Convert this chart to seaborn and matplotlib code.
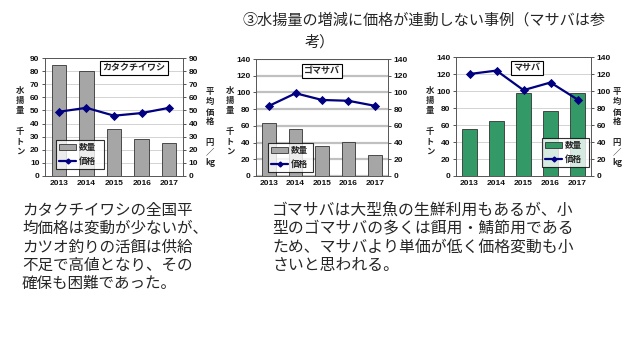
import matplotlib
matplotlib.use("Agg")
import matplotlib.pyplot as plt
import seaborn as sns
import pandas as pd
from matplotlib.patches import Patch
from matplotlib.lines import Line2D
from matplotlib.font_manager import FontProperties

sns.set_theme(style="white")
plt.rcParams['font.family'] = ['Noto Sans CJK JP', 'DejaVu Sans']

years = ['2013', '2014', '2015', '2016', '2017']

# catch (thousand t) and mean price (yen/kg)
katakuchi_catch = [85, 80, 36, 28, 25]
katakuchi_price = [49, 52, 46, 48, 52]
goma_catch = [63, 56, 36, 41, 25]
goma_price = [84, 99, 91, 90, 84]
masaba_catch = [55, 65, 98, 77, 98]
masaba_price = [120, 124, 101, 110, 90]

navy = '#000080'
gray_bar = '#a6a6a6'
green_bar = '#339966'

fig = plt.figure(figsize=(6.4, 3.6), dpi=100)


def px_axes(left, top, right, bottom):
    return fig.add_axes([left / 640, 1 - bottom / 360, (right - left) / 640, (bottom - top) / 360])


charts = [
    # name, catch, price, bar colour, ymax, step, axes px, name box px, legend px, labels x
    ('カタクチイワシ', katakuchi_catch, katakuchi_price, gray_bar, 90, 10,
     (45, 58, 183, 176), (134, 68), (56, 141, 104, 168), (20, 210)),
    ('ゴマサバ', goma_catch, goma_price, gray_bar, 140, 20,
     (256, 59, 388, 176), (322, 71), (268, 143, 313, 172), (230, None)),
    ('マサバ', masaba_catch, masaba_price, green_bar, 140, 20,
     (456, 57, 591, 176), (527, 68), (542, 138, 589, 167), (430, 617)),
]

tick_fp = FontProperties(family='Liberation Sans', weight='bold', size=6)

for i, (name, catch, price, bcol, ymax, step, box, namepos, legbox, labx) in enumerate(charts):
    ax = px_axes(*box)
    df = pd.DataFrame({'year': years, 'catch': catch, 'price': price})
    sns.barplot(data=df, x='year', y='catch', ax=ax, color=bcol, width=0.52,
                edgecolor='#333333', linewidth=0.6, saturation=1, zorder=2)
    sns.pointplot(data=df, x='year', y='price', ax=ax, color=navy, markers='D',
                  markersize=3.5, linewidth=1.6, zorder=4)
    ax.set_ylim(0, ymax)
    ax.set_xlim(-0.5, 4.5)
    ticks = list(range(0, ymax + 1, step))
    ax.set_yticks(ticks)
    ax.set_yticklabels([str(t) for t in ticks])
    ax.set_xticks(range(5))
    ax.set_xticklabels(years)
    ax.tick_params(axis='y', which='both', left=True, right=True, labelright=True,
                   length=2, width=0.5, pad=2, colors='#111111')
    ax.tick_params(axis='x', length=0, pad=3, colors='#111111')
    for lab in ax.get_yticklabels() + ax.get_xticklabels() + ax.yaxis.get_ticklabels(which='major'):
        lab.set_fontproperties(tick_fp)
    for t in ax.yaxis.get_major_ticks():
        t.label2.set_fontproperties(tick_fp)
    if i == 1:
        ax.yaxis.grid(True, color='#c0c0c0', linewidth=1.6, zorder=0)
    else:
        ax.yaxis.grid(True, color='#cccccc', linewidth=0.6, zorder=0)
    ax.set_axisbelow(True)
    ax.set_xlabel('')
    ax.set_ylabel('')
    for sp in ax.spines.values():
        sp.set_color('#555555')
        sp.set_linewidth(0.7)

    # chart name box
    fig.text(namepos[0] / 640, 1 - namepos[1] / 360, name, ha='center', va='center',
             fontsize=6.5, weight='bold',
             bbox=dict(boxstyle='square,pad=0.25', fc='white', ec='black', lw=0.8))

    # legend
    handles = [Patch(facecolor=bcol, edgecolor='#333333', linewidth=0.6),
               Line2D([0], [0], color=navy, lw=1.6, marker='D', markersize=2.5)]
    l, t, r, b = legbox
    leg = fig.legend(handles, ['数量', '価格'],
                     bbox_to_anchor=(l / 640, 1 - b / 360, (r - l) / 640, (b - t) / 360),
                     loc='center', mode='expand', fontsize=6.2, frameon=True, fancybox=False,
                     handlelength=2.0, handleheight=0.8, handletextpad=0.3, borderpad=0.35,
                     labelspacing=0.55, borderaxespad=0)
    leg.get_frame().set_edgecolor('black')
    leg.get_frame().set_linewidth(0.8)
    for txt in leg.get_texts():
        txt.set_fontweight('bold')

    # vertical axis labels
    fig.text(labx[0] / 640, 1 - 121 / 360, '水\n揚\n量\n\n千\nト\nン', ha='center', va='center',
             fontsize=6, linespacing=1.15, weight='bold')
    if labx[1] is not None:
        fig.text(labx[1] / 640, 1 - 127 / 360, '平\n均\n価\n格\n\n円\n／\nkg', ha='center',
                 va='center', fontsize=6, linespacing=1.15, weight='bold')

# title
fig.text(242 / 640, 1 - 20 / 360, '③水揚量の増減に価格が連動しない事例（マサバは参',
         ha='left', va='center', fontsize=10.9)
fig.text(305 / 640, 1 - 42 / 360, '考）', ha='left', va='center', fontsize=10.9)

# notes
left_note = ['カタクチイワシの全国平', '均価格は変動が少ないが、', 'カツオ釣りの活餌は供給',
             '不足で高値となり、その', '確保も困難であった。']
right_note = ['ゴマサバは大型魚の生鮮利用もあるが、小', '型のゴマサバの多くは餌用・鯖節用である',
              'ため、マサバより単価が低く価格変動も小', 'さいと思われる。']
fig.text(22 / 640, 1 - 202 / 360, '\n'.join(left_note), ha='left', va='top',
         fontsize=11.2, linespacing=1.1)
fig.text(272 / 640, 1 - 202 / 360, '\n'.join(right_note), ha='left', va='top',
         fontsize=11.4, linespacing=1.1)

fig.savefig('out.png', dpi=100)
